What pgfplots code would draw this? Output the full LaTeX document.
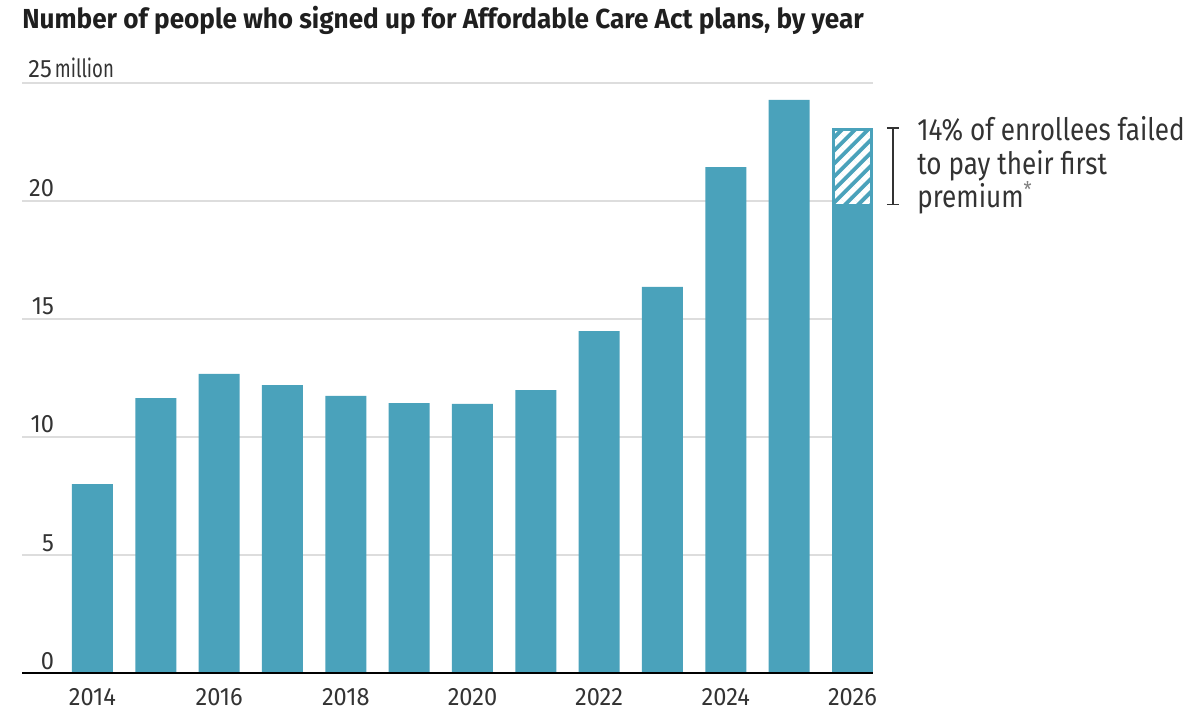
\documentclass[border=0pt]{standalone}
\usepackage{fontspec}
\setmainfont{Fira Sans}[FakeStretch=0.845]
\newfontfamily\titlefont{Fira Sans}[FakeStretch=0.95]
\newfontfamily\tickfont{Fira Sans}[FakeStretch=0.94]
\newfontfamily\narrowfont{Fira Sans}[FakeStretch=0.74]
\usepackage{pgfplots}
\pgfplotsset{compat=1.18}
\usetikzlibrary{patterns.meta}

\definecolor{barc}{HTML}{4AA2BB}
\definecolor{txt}{HTML}{333333}
\definecolor{gridc}{HTML}{DDDDDD}

% Enrollment, millions of people
\pgfplotstableread{
year value
2014 8.0
2015 11.65
2016 12.67
2017 12.2
2018 11.74
2019 11.44
2020 11.4
2021 11.99
2022 14.49
2023 16.36
2024 21.44
2025 24.28
}\enroll

\newcommand{\ticksize}{\tickfont\fontsize{12.6}{14}\selectfont}

\begin{document}
\begin{tikzpicture}
\path[use as bounding box] (0,0) rectangle (600bp,359bp);

\begin{axis}[
  at={(11bp,22.5bp)}, anchor=south west,
  scale only axis, width=425.5bp, height=295bp,
  xmin=2012.887, xmax=2026.325, ymin=0, ymax=25,
  axis line style={draw=none},
  major tick length=0pt,
  xtick={2014,2016,...,2026},
  xticklabels={2014,2016,2018,2020,2022,2024,2026},
  xticklabel style={anchor=base, yshift=-16bp, font=\ticksize, text=txt},
  ytick={0,5,10,15,20,25},
  yticklabels={0,5,10,15,20,{}},
  yticklabel style={anchor=base east, xshift=19.5bp, yshift=2bp, font=\ticksize, text=txt},
  ymajorgrids, major grid style={gridc, line width=1bp},
  clip=false,
]
  % regular years
  \addplot[ybar, bar width=20.5bp, bar shift=0pt, fill=barc, draw=none]
    table[x=year, y=value] {\enroll};
  % 2026: full sign-ups, with the unpaid share hatched
  \addplot[ybar, bar width=19.2bp, bar shift=0pt, fill=barc,
    postaction={pattern={Lines[angle=45, distance=4.6bp, line width=2.5bp]}, pattern color=white},
    draw=barc, line width=1.3bp]
    coordinates {(2026,23.04)};
  \addplot[ybar, bar width=20.5bp, bar shift=0pt, fill=barc, draw=none]
    coordinates {(2026,19.86)};

  % baseline
  \draw[black, line width=1.2bp] (rel axis cs:0,0) -- (rel axis cs:1,0);

  % unit label on the top gridline
  \node[anchor=base west, inner sep=0, font=\ticksize, text=txt]
    at ([xshift=3bp, yshift=2.5bp]rel axis cs:0,1)
    {25\kern1.5bp{\narrowfont million}};

  % bracket spanning the hatched part
  \draw[txt, line width=0.8bp]
    (axis cs:2026.64,23.09) -- (axis cs:2026.64,19.86);
  \draw[txt, line width=0.8bp]
    ([xshift=-3bp]axis cs:2026.64,23.09) -- ([xshift=3bp]axis cs:2026.64,23.09);
  \draw[txt, line width=0.8bp]
    ([xshift=-3bp]axis cs:2026.64,19.86) -- ([xshift=3bp]axis cs:2026.64,19.86);
\end{axis}

% title
\node[anchor=base west, inner sep=0, font=\titlefont\fontsize{13.8}{16}\selectfont\bfseries, text=black!88]
  at (11bp,344.5bp) {Number of people who signed up for Affordable Care Act plans, by year};

% annotation
\begin{scope}[every node/.style={anchor=base west, inner sep=0, font=\fontsize{15.5}{17}\selectfont, text=txt}]
  \node at (458.5bp,288.5bp) {14\% of enrollees failed};
  \node at (458.5bp,271.75bp) {to pay their first};
  \node at (458.5bp,255bp) {premium\textsuperscript{\color{gray}*}};
\end{scope}
\end{tikzpicture}
\end{document}
